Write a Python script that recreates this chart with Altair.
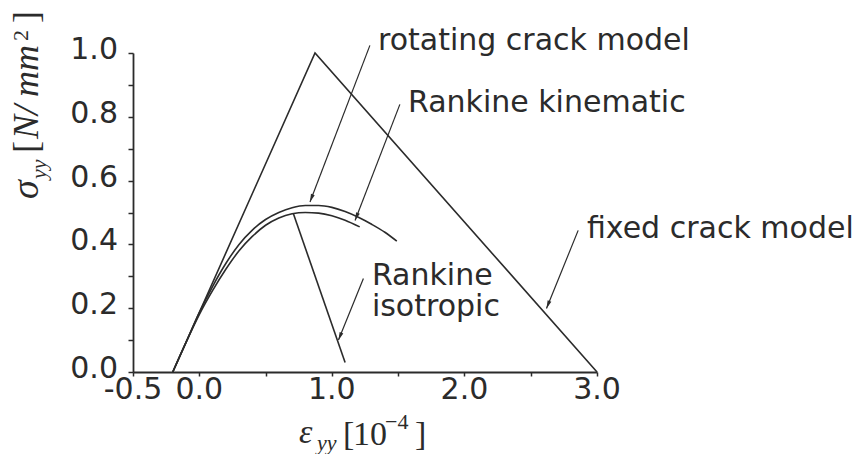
import math
import altair as alt
import pandas as pd

# --- stress-strain responses: strain in 1e-4, stress in N/mm^2 ---
fixed_x = [-0.2, 0.873, 3.0]
fixed_y = [0.0, 1.0, 0.0]

rot_x = [-0.2, -0.1, 0.0, 0.1, 0.2, 0.3, 0.4, 0.5, 0.6, 0.7, 0.8, 0.9, 1.0, 1.1, 1.2, 1.3, 1.4, 1.49]
rot_y = [0.0, 0.093, 0.186, 0.268, 0.34, 0.4, 0.445, 0.478, 0.5, 0.515, 0.522, 0.522, 0.516, 0.503, 0.485, 0.463, 0.438, 0.41]

kin_x = [-0.2, -0.1, 0.0, 0.1, 0.2, 0.3, 0.4, 0.5, 0.6, 0.7, 0.8, 0.9, 1.0, 1.1, 1.21]
kin_y = [0.0, 0.093, 0.18, 0.255, 0.322, 0.38, 0.425, 0.46, 0.483, 0.496, 0.5, 0.498, 0.49, 0.476, 0.455]

# isotropic softening branch leaves the common pre-peak curve at its peak
iso_x = [0.71, 1.10]
iso_y = [0.496, 0.03]

# --- axis ticks ---
x_ticks = [-0.5, 0.0, 0.5, 1.0, 1.5, 2.0, 2.5, 3.0]
x_label_vals = [-0.5, 0.0, 1.0, 2.0, 3.0]
x_labels = ["-0.5", "0.0", "1.0", "2.0", "3.0"]
y_ticks = [0.0, 0.1, 0.2, 0.3, 0.4, 0.5, 0.6, 0.7, 0.8, 0.9, 1.0]
y_label_vals = [0.0, 0.2, 0.4, 0.6, 0.8, 1.0]
y_labels = ["0.0", "0.2", "0.4", "0.6", "0.8", "1.0"]

# --- annotations (data units) ---
ann_text = ["rotating crack model", "Rankine kinematic", "fixed crack model", "Rankine", "isotropic"]
ann_x = [1.348, 1.574, 2.924, 1.302, 1.302]
ann_y = [1.008, 0.814, 0.419, 0.272, 0.177]

arr_x0 = [1.287, 1.513, 2.858, 1.238]
arr_y0 = [1.024, 0.839, 0.444, 0.293]
arr_x1 = [0.835, 1.175, 2.619, 1.05]
arr_y1 = [0.533, 0.475, 0.199, 0.10]

# --- layout ---
W, H = 464, 319
X_DOM = [-0.5, 3.0]
Y_DOM = [0.0, 1.0]
INK = "#2b2b2b"
SANS = "DejaVu Sans"
SERIF = "Liberation Serif"

xs = alt.Scale(domain=X_DOM, nice=False, zero=False)
ys = alt.Scale(domain=Y_DOM, nice=False, zero=False)


def series(name, xv, yv):
    return pd.DataFrame({"model": name, "i": range(len(xv)), "x": xv, "y": yv})


smooth = pd.concat([series("rotating", rot_x, rot_y), series("kinematic", kin_x, kin_y)])
straight = pd.concat([series("fixed", fixed_x, fixed_y), series("isotropic", iso_x, iso_y)])

# axes carry line and ticks; the tick labels are drawn as text layers below
x_axis = alt.Axis(
    values=x_ticks, labels=False, title=None, grid=False, tickSize=4,
    domainColor=INK, tickColor=INK, domainWidth=1.8, tickWidth=1.5,
)
y_axis = alt.Axis(
    values=y_ticks, labels=False, title=None, grid=False, tickSize=5,
    domainColor=INK, tickColor=INK, domainWidth=1.8, tickWidth=1.5,
)


def X(field):
    return alt.X(field, scale=xs, axis=x_axis)


def Y(field):
    return alt.Y(field, scale=ys, axis=y_axis)


curves_smooth = alt.Chart(smooth).mark_line(
    color=INK, strokeWidth=1.6, interpolate="monotone"
).encode(x=X("x:Q"), y=Y("y:Q"), detail="model:N", order="i:Q")

curves_straight = alt.Chart(straight).mark_line(color=INK, strokeWidth=1.6).encode(
    x=X("x:Q"), y=Y("y:Q"), detail="model:N", order="i:Q"
)

x_tick_text = alt.Chart(pd.DataFrame({"v": x_label_vals, "t": x_labels})).mark_text(
    font=SANS, fontSize=30, color=INK, align="center", baseline="alphabetic"
).encode(x=X("v:Q"), y=alt.value(H + 27), text="t:N")

y_tick_text = alt.Chart(pd.DataFrame({"v": y_label_vals, "t": y_labels})).mark_text(
    font=SANS, fontSize=30, color=INK, align="right", baseline="middle", dy=-3
).encode(x=alt.value(-15), y=Y("v:Q"), text="t:N")

# arrows: shaft plus a filled head rotated along the shaft direction
px_per_x = W / (X_DOM[1] - X_DOM[0])
px_per_y = H / (Y_DOM[1] - Y_DOM[0])
angles = []
for a, b, c, d in zip(arr_x0, arr_y0, arr_x1, arr_y1):
    dxp = (c - a) * px_per_x
    dyp = -(d - b) * px_per_y
    angles.append(math.degrees(math.atan2(dxp, -dyp)) % 360)
arrows = pd.DataFrame({"x0": arr_x0, "y0": arr_y0, "x1": arr_x1, "y1": arr_y1, "ang": angles})

shafts = alt.Chart(arrows).mark_rule(color=INK, strokeWidth=1.2).encode(
    x=X("x0:Q"), y=Y("y0:Q"), x2="x1:Q", y2="y1:Q"
)
heads = alt.Chart(arrows).mark_point(
    shape="M0,0L0.5,2L-0.5,2Z", size=64, filled=True, opacity=1, color=INK, strokeWidth=0
).encode(x=X("x1:Q"), y=Y("y1:Q"), angle=alt.Angle("ang:Q", scale=None))

notes = alt.Chart(pd.DataFrame({"t": ann_text, "x": ann_x, "y": ann_y})).mark_text(
    font=SANS, fontSize=30, color=INK, align="left", baseline="alphabetic"
).encode(x=X("x:Q"), y=Y("y:Q"), text="t:N")

# axis titles assembled from pieces (math italic, subscripts, superscripts)
# (text, italic, font size, x px, y px, angle)
title_pieces = [
    ("ε", True, 34, 166, 390, 0),
    ("yy", True, 22, 184, 397, 0),
    ("[", False, 34, 210, 392, 0),
    ("10", False, 34, 220, 392, 0),
    ("−4", False, 22, 252, 376, 0),
    ("]", False, 34, 282, 392, 0),
    ("σ", True, 38, -95, 146, 270),
    ("yy", True, 22, -87, 126, 270),
    ("[", False, 36, -95, 100, 270),
    ("N/", True, 36, -95, 86, 270),
    ("mm", True, 36, -95, 44, 270),
    ("2", False, 22, -105, -12, 270),
    ("]", False, 36, -95, -30, 270),
]
title_layers = []
for txt, ital, fs, px, py, ang in title_pieces:
    title_layers.append(
        alt.Chart(pd.DataFrame({"t": [txt]})).mark_text(
            font=SERIF, fontSize=fs, fontStyle="italic" if ital else "normal",
            color=INK, align="left", baseline="alphabetic", angle=ang,
        ).encode(text="t:N", x=alt.value(px), y=alt.value(py))
    )

chart = alt.layer(
    curves_smooth, curves_straight, x_tick_text, y_tick_text, shafts, heads, notes, *title_layers
).properties(
    width=W,
    height=H,
    autosize=alt.AutoSizeParams(type="none"),
    padding={"left": 133, "top": 53, "right": 256, "bottom": 82},
    background="white",
).configure_view(stroke=None)

chart.save("out.html", embed_options={"renderer": "svg", "actions": False})
